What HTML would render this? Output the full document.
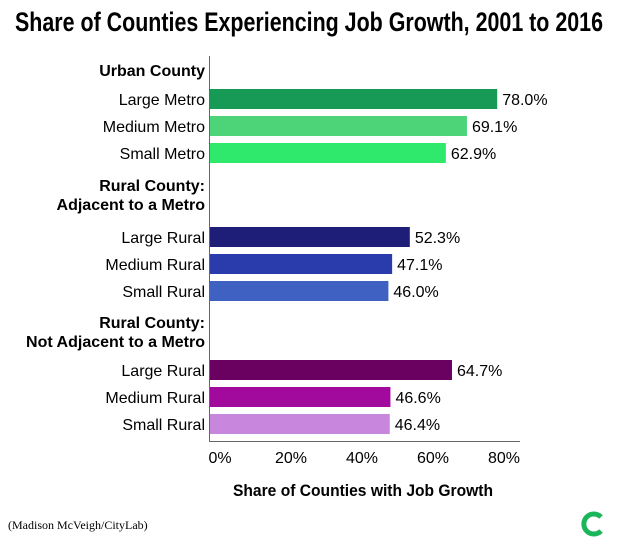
<!DOCTYPE html>
<html><head><meta charset="utf-8"><style>
body{margin:0;background:#fff;}
svg{display:block;font-family:"Liberation Sans Narrow","Liberation Sans",sans-serif;}
</style></head><body>
<svg id="chart" width="620" height="545" viewBox="0 0 620 545" xmlns="http://www.w3.org/2000/svg">
<rect width="620" height="545" fill="#fff"/>
<text x="309" y="31" text-anchor="middle" font-size="27" font-weight="bold" textLength="588" lengthAdjust="spacingAndGlyphs">Share of Counties Experiencing Job Growth, 2001 to 2016</text>
<g id="groups"></g>
<g id="bars"></g>
<line x1="209.5" y1="56" x2="209.5" y2="442" stroke="#666" stroke-width="1"/>
<line x1="209" y1="441.5" x2="520" y2="441.5" stroke="#666" stroke-width="1"/>
<g id="ticks"></g>
<text x="363" y="496" text-anchor="middle" font-size="17" font-weight="bold" textLength="260" lengthAdjust="spacingAndGlyphs">Share of Counties with Job Growth</text>
<text x="8" y="529" font-size="12" font-family="Liberation Serif, serif">(Madison McVeigh/CityLab)</text>
<g>
<path d="M601 517 A10 10 0 1 0 601 531" fill="none" stroke="#1bb55c" stroke-width="5"/>
</g>
</svg>
<script>
const categories=["Large Metro","Medium Metro","Small Metro","Large Rural","Medium Rural","Small Rural","Large Rural","Medium Rural","Small Rural"];
const values=[78.0,69.1,62.9,52.3,47.1,46.0,64.7,46.6,46.4];
const colors=["#179a55","#4dd479","#2ee96b","#1e1e78","#2a3cac","#3e61c2","#6a005f","#a10a9c","#c886dd"];
const tickValues=[0,20,40,60,80];
const tickLabels=["0%","20%","40%","60%","80%"];
const groupLabels=[["Urban County"],["Rural County:","Adjacent to a Metro"],["Rural County:","Not Adjacent to a Metro"]];
const rowY=[99,126,153,237,264,291,370,397,424];
const groupY=[70,185,322];
const NS="http://www.w3.org/2000/svg";
const x=v=>232+v*3.4;
const tx=v=>220+v*3.55;
function mk(t,a,p){const e=document.createElementNS(NS,t);for(const k in a)e.setAttribute(k,a[k]);p.appendChild(e);return e;}
const bars=document.getElementById('bars'),ticks=document.getElementById('ticks'),groups=document.getElementById('groups');
categories.forEach((c,i)=>{
  const y=rowY[i];
  const r=mk('rect',{x:210,y:y-10,width:Math.max(0,x(values[i])-210),height:20,fill:colors[i]},bars);
  
  
  const l=mk('text',{x:205,y:y+6,'text-anchor':'end','font-size':16},bars);l.textContent=c;
  
  
  const v=mk('text',{x:x(values[i])+5,y:y+6,'font-size':16},bars);v.textContent=values[i].toFixed(1)+'%';
  
  
});
groupLabels.forEach((g,i)=>{g.forEach((s,j)=>{
  const t=mk('text',{x:205,y:groupY[i]+6+j*19,'text-anchor':'end','font-size':16,'font-weight':'bold'},groups);t.textContent=s;
  
  
});});
tickValues.forEach((v,i)=>{
  const t=mk('text',{x:tx(v),y:463,'text-anchor':'middle','font-size':16},ticks);t.textContent=tickLabels[i];
  
  
});
</script>
</body></html>
